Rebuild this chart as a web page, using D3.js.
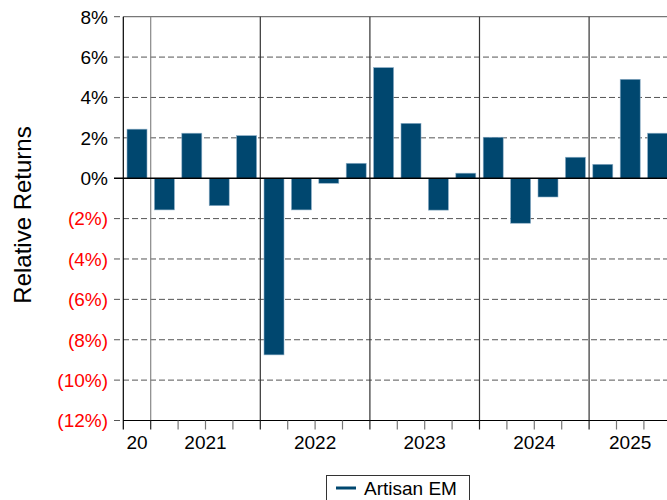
<!DOCTYPE html>
<html>
<head>
<meta charset="utf-8">
<script src="https://cdn.jsdelivr.net/npm/d3@7"></script>
<style>
  body { margin: 0; background: #fff; }
  svg { display: block; font-family: "Liberation Sans", Arial, sans-serif; }
</style>
</head>
<body>
<div id="chart"></div>
<script>
// quarterly relative returns, Artisan EM
const quarters = ["2020Q4",
  "2021Q1", "2021Q2", "2021Q3", "2021Q4",
  "2022Q1", "2022Q2", "2022Q3", "2022Q4",
  "2023Q1", "2023Q2", "2023Q3", "2023Q4",
  "2024Q1", "2024Q2", "2024Q3", "2024Q4",
  "2025Q1", "2025Q2", "2025Q3"];
const values = [2.43,
  -1.57, 2.23, -1.36, 2.11,
  -8.75, -1.57, -0.25, 0.74,
  5.48, 2.72, -1.58, 0.25,
  2.03, -2.23, -0.93, 1.04,
  0.69, 4.9, 2.23];
const years = ["2020", "2021", "2022", "2023", "2024", "2025"];
const yearLabels = ["20", "2021", "2022", "2023", "2024", "2025"];
const yTicks = [-12, -10, -8, -6, -4, -2, 0, 2, 4, 6, 8];
const seriesName = "Artisan EM";

const width = 667, height = 500;
const plotLeft = 123.3, plotRight = 671.3, plotTop = 16.7, plotBottom = 420.5;
const barColor = "#00476f";

const svg = d3.select("#chart").append("svg")
    .attr("width", width)
    .attr("height", height);

const x = d3.scaleBand()
    .domain(quarters)
    .range([plotLeft, plotRight])
    .paddingInner(0.27)
    .paddingOuter(0.135);

const y = d3.scaleLinear()
    .domain([-12, 8])
    .range([plotBottom, plotTop]);

const step = x.step();
const bandStart = q => x(q) - step * 0.135;

// dashed gridlines (they start a bit left of the axis, like ticks)
svg.append("g")
    .selectAll("line")
    .data(yTicks.filter(d => d !== 0 && d !== 8 && d !== -12))
    .enter().append("line")
    .attr("x1", 114).attr("x2", plotRight)
    .attr("y1", d => y(d)).attr("y2", d => y(d))
    .attr("stroke", "#555")
    .attr("stroke-dasharray", "6,3");

// short ticks for 8 and -12
svg.append("g")
    .selectAll("line")
    .data([8, -12])
    .enter().append("line")
    .attr("x1", 114).attr("x2", plotLeft)
    .attr("y1", d => y(d)).attr("y2", d => y(d))
    .attr("stroke", "#555")
    .attr("stroke-dasharray", "6,3");

// top border
svg.append("line")
    .attr("x1", plotLeft).attr("x2", plotRight)
    .attr("y1", y(8)).attr("y2", y(8))
    .attr("stroke", "#777").attr("stroke-width", 1.2);

// year separators
const firstQ = years.slice(1).map(yr => quarters.find(q => q.startsWith(yr)));
svg.append("g")
    .selectAll("line")
    .data(firstQ)
    .enter().append("line")
    .attr("x1", d => bandStart(d)).attr("x2", d => bandStart(d))
    .attr("y1", plotTop).attr("y2", plotBottom)
    .attr("stroke", (d, i) => i === 0 ? "#888" : "#333")
    .attr("stroke-width", 1.2);

// bars
svg.append("g")
    .selectAll("rect")
    .data(quarters)
    .enter().append("rect")
    .attr("x", d => x(d))
    .attr("width", x.bandwidth())
    .attr("y", (d, i) => y(Math.max(0, values[i])))
    .attr("height", (d, i) => Math.abs(y(values[i]) - y(0)))
    .attr("fill", barColor)
    .attr("stroke", "#8fb0c8")
    .attr("stroke-width", 0.6);

// zero line
svg.append("line")
    .attr("x1", 114).attr("x2", plotRight)
    .attr("y1", y(0)).attr("y2", y(0))
    .attr("stroke", "#000").attr("stroke-width", 1.6);

// y axis line
svg.append("line")
    .attr("x1", plotLeft).attr("x2", plotLeft)
    .attr("y1", plotTop).attr("y2", plotBottom + 9)
    .attr("stroke", "#000").attr("stroke-width", 1.2);

// x axis line
svg.append("line")
    .attr("x1", plotLeft).attr("x2", plotRight)
    .attr("y1", plotBottom).attr("y2", plotBottom)
    .attr("stroke", "#000").attr("stroke-width", 1.2);

// x ticks at quarter boundaries
svg.append("g")
    .selectAll("line")
    .data(quarters.slice(1))
    .enter().append("line")
    .attr("x1", d => bandStart(d)).attr("x2", d => bandStart(d))
    .attr("y1", plotBottom).attr("y2", plotBottom + 9)
    .attr("stroke", d => d.endsWith("Q1") ? "#222" : "#777")
    .attr("stroke-width", 1.2);

// y labels, negatives in red with brackets
svg.append("g")
    .selectAll("text")
    .data(yTicks)
    .enter().append("text")
    .attr("x", 108)
    .attr("y", d => y(d))
    .attr("dy", "0.36em")
    .attr("text-anchor", "end")
    .style("font-size", "19px")
    .attr("fill", d => d < 0 ? "#ff0000" : "#000")
    .text(d => d < 0 ? `(${-d}%)` : `${d}%`);

// year labels
svg.append("g")
    .selectAll("text")
    .data(years)
    .enter().append("text")
    .attr("x", yr => {
        const qs = quarters.filter(q => q.startsWith(yr));
        const a = bandStart(qs[0]);
        if (yr === "2025") return a + step * 1.5;
        return a + step * qs.length / 2;
    })
    .attr("y", 449)
    .attr("text-anchor", "middle")
    .style("font-size", "19px")
    .attr("fill", "#000")
    .text((d, i) => yearLabels[i]);

// y axis title
svg.append("text")
    .attr("transform", "translate(31,215) rotate(-90)")
    .attr("text-anchor", "middle")
    .style("font-size", "24px")
    .attr("fill", "#000")
    .text("Relative Returns");

// legend
const legend = svg.append("g");
legend.append("rect")
    .attr("x", 326.5).attr("y", 475.5)
    .attr("width", 143).attr("height", 40)
    .attr("fill", "#fff")
    .attr("stroke", "#333").attr("stroke-width", 1);
legend.append("line")
    .attr("x1", 336).attr("x2", 356)
    .attr("y1", 488).attr("y2", 488)
    .attr("stroke", barColor).attr("stroke-width", 3);
legend.append("text")
    .attr("x", 364).attr("y", 495)
    .style("font-size", "19px")
    .attr("fill", "#000")
    .text(seriesName);
</script>
</body>
</html>
